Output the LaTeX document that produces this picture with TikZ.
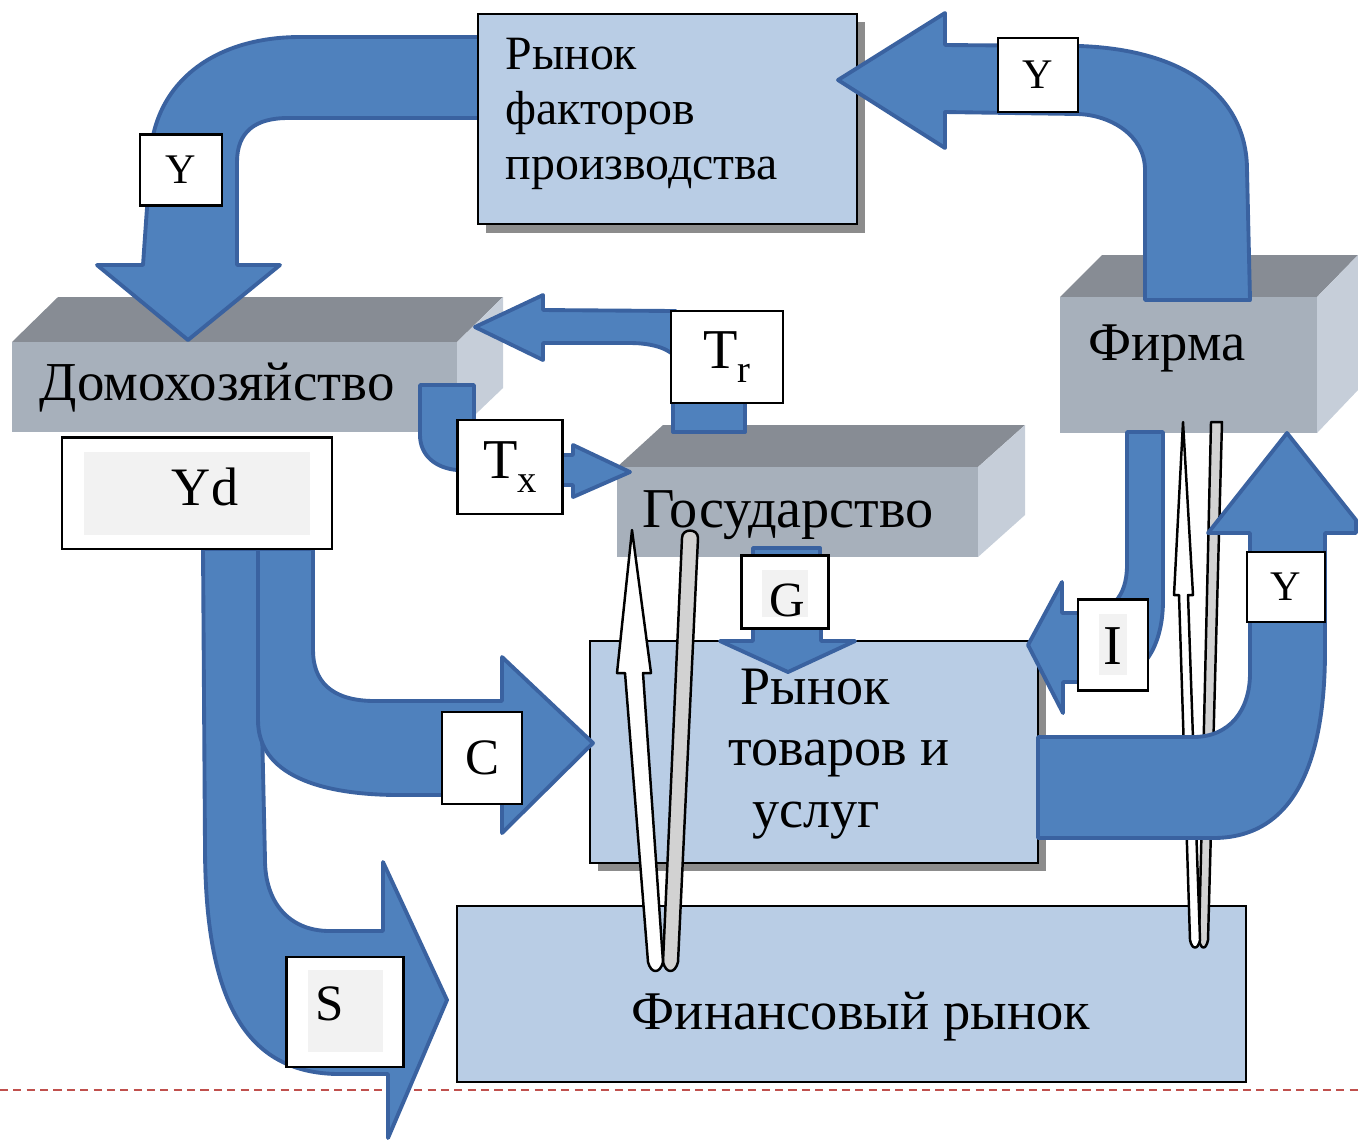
\documentclass[tikz,border=0pt]{standalone}
\usepackage{fontspec}
\setmainfont{Liberation Serif}
\usetikzlibrary{calc}

\definecolor{flowblue}{HTML}{4F81BD}
\definecolor{flowedge}{HTML}{3A62A0}
\definecolor{panelblue}{HTML}{B9CDE5}
\definecolor{slabfront}{HTML}{A7B0BB}
\definecolor{slabtop}{HTML}{878C94}
\definecolor{slabside}{HTML}{C6CED9}
\definecolor{patchgray}{HTML}{F2F2F2}
\definecolor{stripgray}{HTML}{D2D2D2}
\definecolor{cutred}{HTML}{C0504D}

\newcommand{\sizeto}[2]{\fontsize{#1}{#2}\selectfont}

\tikzset{
  flow/.style={fill=flowblue, draw=flowedge, line width=1.1pt, line join=round},
  panel/.style={fill=panelblue, draw=black, line width=0.6pt},
  shade/.style={fill=gray!90},
  tag/.style={fill=white, draw=black, line width=0.6pt, inner sep=0pt},
  word/.style={inner sep=0pt},
  loopwhite/.style={fill=white, draw=black, line width=0.7pt, line join=round},
  loopgray/.style={fill=stripgray, draw=black, line width=0.7pt, line join=round},
  cutline/.style={cutred, line width=0.6pt, dash pattern=on 2.3pt off 1.5pt},
}

\begin{document}
\begin{tikzpicture}[x=0.01cm, y=-0.01cm]
	\useasboundingbox (0,0) rectangle (1358,1141);
	\draw[cutline] (0,1090) -- (1358,1090); % slide edge

	% households
	\fill[slabtop] (12,342) -- (58,297) -- (503,297) -- (457,342) -- cycle;
	\fill[slabside] (457,342) -- (503,297) -- (503,388) -- (457,432) -- cycle;
	\fill[slabfront] (12,342) rectangle (457,432);
	\node[word, anchor=west, font=\sizeto{15.6}{17}] (home) at (39,388) {Домохозяйство};

	% state
	\fill[slabtop] (617,467) -- (663,425) -- (1025,425) -- (978,467) -- cycle;
	\fill[slabside] (978,467) -- (1025,425) -- (1025,515) -- (978,557) -- cycle;
	\fill[slabfront] (617,467) rectangle (978,557);
	\node[word, font=\sizeto{16}{17}] (state) at (788,515) {Государство};

	% firm
	\fill[slabtop] (1060,297) -- (1102,255) -- (1358,255) -- (1317,297) -- cycle;
	\fill[slabside] (1317,297) -- (1358,255) -- (1358,390) -- (1317,433) -- cycle;
	\fill[slabfront] (1060,297) rectangle (1317,433);
	\node[word, anchor=west, font=\sizeto{15.5}{17}] (firm) at (1088,348) {Фирма};

	% Y: factor market -> households
	\draw[flow] (485,37) -- (300,37) .. controls (212,37) and (150,85) .. (150,165)
		-- (143,265) -- (97,265) -- (188,340) -- (280,265) -- (237,265) -- (237,162)
		.. controls (237,132) and (255,118) .. (288,118) -- (485,118) -- cycle;
	\node[tag, minimum width=0.82cm, minimum height=0.71cm, font=\sizeto{12}{12}] (yfac) at (181,170) {Y};

	% factor market
	\fill[shade] (486,22) rectangle (865,233);
	\draw[panel] (478,14) rectangle (857,224);
	\node[word, anchor=west, align=left, font=\sizeto{13.6}{15.6}] (factors) at (505,114) {Рынок\\факторов\\производства};

	% Y: firm -> factor market
	\draw[flow] (1145,300) -- (1145,170) .. controls (1145,135) and (1110,115) .. (1078,114)
		-- (945,112) -- (945,148) -- (838,80) -- (945,13) -- (945,45) -- (1080,46)
		.. controls (1190,50) and (1247,100) .. (1247,170) -- (1250,300) -- cycle;
	\node[tag, minimum width=0.8cm, minimum height=0.74cm, font=\sizeto{12}{12}] (yfirm) at (1038,75) {Y};

	% transfers and taxes
	\draw[flow] (676,311) -- (543,310) -- (543,295) -- (475,327) -- (543,360) -- (543,343)
		-- (630,343) .. controls (655,343) and (671,350) .. (676,358) -- cycle;
	\draw[flow] (673,395) rectangle (745,432);
	\node[tag, minimum width=1.12cm, minimum height=0.92cm, font=\sizeto{16}{16}] (tr) at (727,357)
		{T\raisebox{-4pt}{\sizeto{11}{11}r}};
	\draw[flow] (420,385) -- (474,385) -- (474,430) -- (465,430) -- (465,470) -- (457,470)
		.. controls (435,468) and (420,455) .. (420,435) -- cycle;
	\draw[flow] (555,455) -- (573,455) -- (573,445) -- (630,472) -- (573,497) -- (573,485) -- (555,485) -- cycle;
	\node[tag, minimum width=1.05cm, minimum height=0.94cm, font=\sizeto{16}{16}] (tx) at (510,467)
		{T\raisebox{-4pt}{\sizeto{11}{11}x}};

	% goods and services market
	\fill[shade] (598,649) rectangle (1046,871);
	\draw[panel] (590,641) rectangle (1038,863);
	\node[word, anchor=west, align=left, font=\sizeto{15.4}{17.6}] (goods) at (728,754)
		{\hspace{3.4pt}Рынок\\товаров и\\\hspace{6.8pt}услуг};

	% financial market
	\draw[panel] (457,906) rectangle (1246,1082);
	\node[word, font=\sizeto{15.5}{16}] (finance) at (861,1017) {Финансовый рынок};

	% S and C out of Yd
	\draw[flow] (203,549) -- (205,846) .. controls (205,1000) and (245,1074) .. (340,1074)
		-- (388,1074) -- (388,1138) -- (447,1000) -- (383,862) -- (383,931) -- (330,931)
		.. controls (287,931) and (265,900) .. (265,860) -- (258,549) -- cycle;
	\draw[flow] (258,549) -- (258,720) .. controls (258,775) and (320,795) .. (400,795)
		-- (502,795) -- (502,833) -- (593,743) -- (502,657) -- (502,701) -- (375,701)
		.. controls (330,701) and (313,680) .. (313,650) -- (313,549) -- cycle;
	\node[tag, minimum width=2.69cm, minimum height=1.11cm] (ydbox) at (197,493) {};
	\fill[patchgray] (84,452) rectangle (310,535);
	\node[word, font=\sizeto{15.4}{16}] (yd) at (205,487) {Yd};
	\node[tag, minimum width=0.8cm, minimum height=0.92cm, font=\sizeto{14.5}{15}] (cons) at (482,758) {C};
	\node[tag, minimum width=1.17cm, minimum height=1.1cm] (sbox) at (345,1012) {};
	\fill[patchgray] (308,970) rectangle (383,1052);
	\node[word, font=\sizeto{14.5}{15}] (sav) at (330,1004) {S};

	% government purchases
	\draw[flow] (753,548) rectangle (820,560);
	\draw[flow] (753,620) -- (821,620) -- (821,641) -- (855,641) -- (788,672) -- (720,641) -- (753,641) -- cycle;
	\node[tag, minimum width=0.87cm, minimum height=0.73cm] (gbox) at (785,592) {};
	\fill[patchgray] (762,570) rectangle (808,617);
	\node[word, font=\sizeto{14}{14}] (gov) at (787,600) {G};

	% investment
	\draw[flow] (1127,432) -- (1127,565) .. controls (1127,598) and (1110,613) .. (1085,613)
		-- (1062,613) -- (1062,582) -- (1028,645) -- (1063,713) -- (1063,682) -- (1100,682)
		.. controls (1140,682) and (1163,650) .. (1163,600) -- (1163,432) -- cycle;
	\node[tag, minimum width=0.7cm, minimum height=0.91cm] (ibox) at (1113,645) {};
	\fill[patchgray] (1099,614) rectangle (1127,675);
	\node[word, font=\sizeto{16}{16}] (inv) at (1113,646) {I};

	% loops through the financial market
	\draw[loopgray] (682,538) .. controls (682,528) and (698,528) .. (698,538) -- (678,962)
		.. controls (675,974) and (666,974) .. (663,962) -- cycle;
	\draw[loopwhite] (632,530) -- (651,673) -- (643,673) -- (663,962) .. controls (660,974) and (651,974) .. (648,962)
		-- (625,673) -- (617,673) -- cycle;
	\draw[loopgray] (1211,422) -- (1222,422) -- (1208,940) .. controls (1206,950) and (1201,950) .. (1199,940) -- cycle;
	\draw[loopwhite] (1183,422) -- (1193,595) -- (1188,595) -- (1200,940) .. controls (1198,950) and (1192,950) .. (1190,940)
		-- (1179,595) -- (1174,595) -- cycle;

	% Y: goods market -> firm
	\draw[flow] (1038,737) -- (1193,737) .. controls (1230,737) and (1250,710) .. (1250,673)
		-- (1250,533) -- (1208,533) -- (1287,433) -- (1356,520) -- (1356,533) -- (1325,533) -- (1325,650)
		.. controls (1325,770) and (1290,838) .. (1213,838) -- (1038,838) -- cycle;
	\node[tag, minimum width=0.78cm, minimum height=0.7cm, font=\sizeto{12}{12}] (ygoods) at (1286,587) {Y};
\end{tikzpicture}
\end{document}
